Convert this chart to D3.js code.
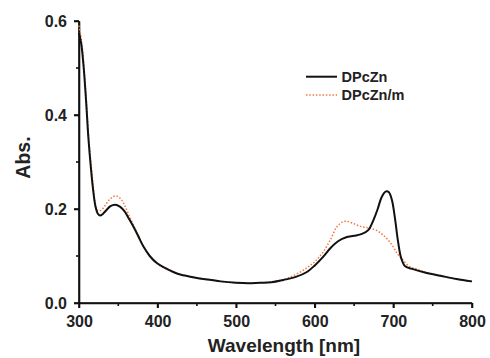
<!DOCTYPE html>
<html><head><meta charset="utf-8">
<script src="https://cdn.jsdelivr.net/npm/d3@7"></script>
<style>body{margin:0;background:#fff}svg{display:block}text{font-family:"Liberation Sans",Arial,sans-serif;font-weight:bold;fill:#222}</style>
</head><body>
<script>
const seriesNames = ["DPcZn", "DPcZn/m"];
const wlBlack = [300,303,306,309,312,315,318,321,324,327,330,335,340,346,352,358,364,370,376,382,390,399,410,420,430,445,463,480,500,515,530,545,560,575,590,600,610,620,630,640,650,660,668,675,680,685,690,694,698,702,706,710,715,725,740,760,780,800];
const absBlack = [0.575,0.55,0.50,0.43,0.35,0.29,0.24,0.205,0.19,0.186,0.189,0.198,0.206,0.209,0.205,0.195,0.178,0.16,0.14,0.12,0.1,0.085,0.074,0.066,0.06,0.055,0.05,0.046,0.043,0.042,0.043,0.044,0.049,0.055,0.066,0.08,0.097,0.117,0.132,0.14,0.143,0.147,0.155,0.178,0.2,0.225,0.237,0.236,0.22,0.18,0.13,0.095,0.078,0.072,0.065,0.058,0.051,0.046];
const wlOrange = [300,303,306,309,312,315,318,321,324,328,333,340,347,353,358,364,370,376,382,390,399,410,420,430,445,463,480,500,515,530,545,560,575,590,600,610,620,628,635,640,648,658,668,678,688,698,705,711,720,730,740,760,780,800];
const absOrange = [0.59,0.56,0.51,0.44,0.36,0.30,0.25,0.21,0.197,0.197,0.207,0.222,0.228,0.222,0.208,0.185,0.163,0.142,0.121,0.1,0.084,0.073,0.066,0.06,0.055,0.05,0.046,0.043,0.042,0.043,0.045,0.05,0.06,0.075,0.088,0.107,0.135,0.162,0.172,0.174,0.17,0.163,0.16,0.155,0.143,0.124,0.105,0.094,0.078,0.072,0.066,0.058,0.051,0.045];
const xTicks = [300,400,500,600,700,800];
const yTicks = [0.0,0.2,0.4,0.6];
const xMinor = [350,450,550,650,750];
const yMinor = [0.1,0.3,0.5];

const W=490,H=358;
const svg=d3.select("body").append("svg").attr("width",W).attr("height",H);
const x=d3.scaleLinear().domain([300,800]).range([79,472]);
const y=d3.scaleLinear().domain([0,0.6]).range([303,21]);
const axisColor="#111";

const gx=svg.append("g").attr("transform","translate(0,303)");
gx.call(d3.axisBottom(x).tickValues(xTicks).tickSize(5).tickSizeOuter(0).tickPadding(8).tickFormat(d3.format("d")));
gx.selectAll(".tick text").attr("font-size",16);
gx.selectAll(".domain,.tick line").attr("stroke",axisColor).attr("stroke-width",1.6);
const gy=svg.append("g").attr("transform","translate(79,0)");
gy.call(d3.axisLeft(y).tickValues(yTicks).tickSize(5).tickSizeOuter(0).tickPadding(7).tickFormat(d3.format(".1f")));
gy.selectAll(".tick text").attr("font-size",16);
gy.selectAll(".domain,.tick line").attr("stroke",axisColor).attr("stroke-width",1.6);

// axes also as filled rects
const x0=x(300), x1=x(800), y0=y(0), y1=y(0.6), t=1.6;
const frame=svg.append("g").attr("fill",axisColor);
frame.append("rect").attr("x",x0-t/2).attr("y",y1).attr("width",t).attr("height",y0-y1+t/2);
frame.append("rect").attr("x",x0-t/2).attr("y",y0-t/2).attr("width",x1-x0+t/2).attr("height",t);
frame.selectAll("rect.xt").data(xTicks.concat(xMinor)).join("rect").attr("class","xt")
  .attr("x",d=>x(d)-t/2).attr("y",y0).attr("width",t).attr("height",d=>xTicks.includes(d)?5:3);
frame.selectAll("rect.yt").data(yTicks.concat(yMinor)).join("rect").attr("class","yt")
  .attr("y",d=>y(d)-t/2).attr("x",d=>x0-(yTicks.includes(d)?5:3)).attr("height",t).attr("width",d=>yTicks.includes(d)?5:3);

const line=d3.line().x(d=>x(d[0])).y(d=>y(d[1])).curve(d3.curveCatmullRom);
svg.append("path").datum(wlOrange.map((w,i)=>[w,absOrange[i]])).attr("d",line)
  .attr("fill","none").attr("stroke","#f07a3a").attr("stroke-width",1.5).attr("stroke-dasharray","1.5,1.8");
svg.append("path").datum(wlBlack.map((w,i)=>[w,absBlack[i]])).attr("d",line)
  .attr("fill","none").attr("stroke","#111").attr("stroke-width",2);

const lg=svg.append("g");
lg.append("line").attr("x1",306).attr("x2",337).attr("y1",76.7).attr("y2",76.7).attr("stroke","#111").attr("stroke-width",2);
lg.append("line").attr("x1",306).attr("x2",337).attr("y1",95).attr("y2",95).attr("stroke","#f07a3a").attr("stroke-width",1.5).attr("stroke-dasharray","1.5,1.8");
lg.selectAll("text").data(seriesNames).join("text").attr("x",341.5).attr("y",(d,i)=>i?95:76.7).attr("dy","0.35em").attr("font-size",14.5).text(d=>d);

svg.append("text").attr("x",284).attr("y",352).attr("text-anchor","middle").attr("font-size",19).text("Wavelength [nm]");
svg.append("text").attr("transform","translate(30,157.5) rotate(-90)").attr("text-anchor","middle").attr("font-size",19.5).text("Abs.");
</script>
</body></html>
